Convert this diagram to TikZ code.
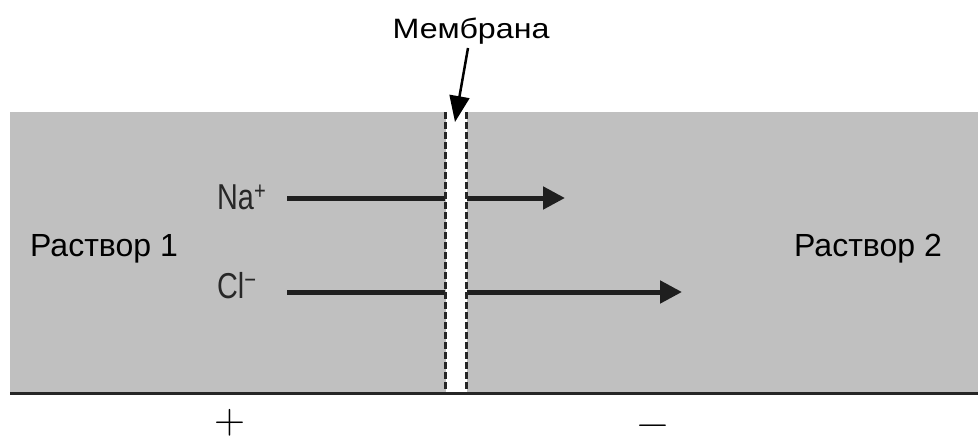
\documentclass[tikz,border=0pt]{standalone}
\usepackage{fontspec}
\newfontfamily\labelfont{Liberation Sans}
\usetikzlibrary{arrows.meta}

\definecolor{solgray}{RGB}{192,192,192}
\definecolor{iongray}{RGB}{40,40,40}

\tikzset{
  ionline/.style={line width=5pt, draw=black!88},
  ionarrow/.style={ionline, -{Triangle[length=22pt,width=22pt]}},
  membedge/.style={line width=2.5pt, draw=black!85, dash pattern=on 7pt off 3pt},
  pointer/.style={line width=2.5pt, -{Triangle[length=26pt,width=20pt]}},
  sollabel/.style={font=\labelfont\fontsize{32}{32}\selectfont, inner sep=0pt, anchor=base west},
  ionlabel/.style={font=\labelfont\fontsize{36}{36}\selectfont, text=iongray, inner sep=0pt, anchor=base west},
  signlabel/.style={font=\fontsize{43}{43}\selectfont, inner sep=0pt, anchor=base}
}

\begin{document}
\begin{tikzpicture}[x=1pt,y=-1pt]
\useasboundingbox (0,0) rectangle (978,439);

% the two solutions and the membrane between them
\node[fill=solgray, minimum width=968pt, minimum height=281pt, inner sep=0pt, anchor=north west] (bath) at (10,112) {};
\node[fill=white, minimum width=21pt, minimum height=281pt, inner sep=0pt, anchor=north] (membrane) at (456,112) {};

% ion flows
\coordinate (na-start) at (287,198);
\coordinate (na-end) at (565,198);
\coordinate (cl-start) at (287,292);
\coordinate (cl-end) at (682,292);
\draw[ionline] (na-start) -- (na-start -| membrane.west);
\draw[ionarrow] (na-start -| membrane.east) -- (na-end);
\draw[ionline] (cl-start) -- (cl-start -| membrane.west);
\draw[ionarrow] (cl-start -| membrane.east) -- (cl-end);

% dashed membrane walls
\draw[membedge] (membrane.north west) -- (membrane.south west);
\draw[membedge] (membrane.north east) -- (membrane.south east);

% base line
\draw[line width=3pt, draw=black!85] (bath.south west) -- (bath.south east);

% labels
\node[sollabel] (sol1) at (30,256) {Раствор 1};
\node[sollabel] (sol2) at (794,256) {Раствор 2};
\node[ionlabel] (na) at (217,209) {\scalebox{0.8}[1]{Na\textsuperscript{+}}};
\node[ionlabel] (cl) at (217,298) {\scalebox{0.8}[1]{Cl\textsuperscript{\char"2212}}};

\node[font=\labelfont\fontsize{28}{28}\selectfont, inner sep=0pt, anchor=base] (memlabel) at (471,38) {\scalebox{1.15}[1]{Мембрана}};
\coordinate (mem-from) at (468,48);
\coordinate (mem-tip) at (455,122);
\draw[pointer] (mem-from) -- (mem-tip);

% charge signs
\node[signlabel] (plus) at (230,433) {+};
\node[signlabel] (minus) at (653,436) {\char"2212};
\end{tikzpicture}
\end{document}
